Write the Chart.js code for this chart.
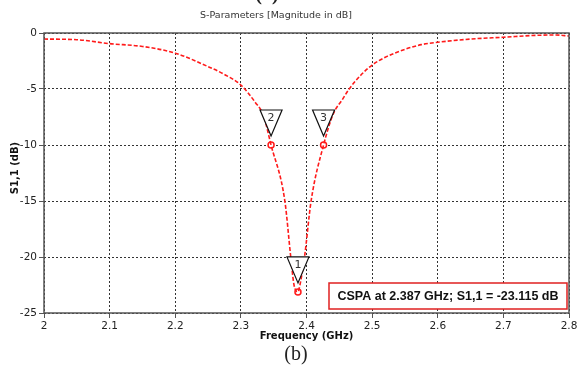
<!DOCTYPE html>
<html>
<head>
<meta charset="utf-8">
<script src="https://cdn.jsdelivr.net/npm/chart.js@4"></script>
<style>
  body { margin: 0; background: #fff; }
  canvas { display: block; }
</style>
</head>
<body>
<canvas id="chart" width="580" height="368"></canvas>
<script>
// S11 curve
var freq = [2.00, 2.05, 2.10, 2.15, 2.20, 2.25, 2.275, 2.30, 2.322, 2.334, 2.346, 2.367, 2.376, 2.381, 2.387,
            2.390, 2.397, 2.407, 2.426, 2.441, 2.454, 2.465, 2.483, 2.50, 2.52, 2.55, 2.575, 2.60, 2.65, 2.70, 2.75, 2.78, 2.80];
var s11 = [-0.54, -0.6, -0.95, -1.2, -1.8, -3.0, -3.7, -4.65, -6.2, -7.3, -10.0, -15.0, -20.0, -22.5, -23.115,
           -22.5, -20.0, -15.0, -10.0, -7.2, -6.0, -5.0, -3.75, -2.86, -2.17, -1.46, -1.04, -0.83, -0.54, -0.38, -0.21, -0.18, -0.27];

// markers
var markNames = ['1', '2', '3'];
var markFreq = [2.387, 2.346, 2.426];
var markVal = [-23.115, -10.0, -10.0];

var xTicks = ['2', '2.1', '2.2', '2.3', '2.4', '2.5', '2.6', '2.7', '2.8'];
var yTicks = ['-25', '-20', '-15', '-10', '-5', '0'];

var tickFont = { family: 'DejaVu Sans', size: 10.5 };

var decorPlugin = {
    id: 'decor',
    afterDatasetsDraw: function(chart) {
        var ctx = chart.ctx;
        var xs = chart.scales.x, ys = chart.scales.y;
        var a = chart.chartArea;
        ctx.save();
        // frame
        ctx.strokeStyle = '#555';
        ctx.lineWidth = 1.5;
        ctx.strokeRect(a.left, a.top, a.right - a.left, a.bottom - a.top);
        // marker triangles
        ctx.lineWidth = 1.2;
        ctx.font = '11px DejaVu Sans';
        ctx.textAlign = 'center';
        ctx.textBaseline = 'middle';
        for (var i = 0; i < markNames.length; i++) {
            var px = xs.getPixelForValue(markFreq[i]);
            var py = ys.getPixelForValue(markVal[i]);
            var tip = py - 9;
            ctx.beginPath();
            ctx.moveTo(px, tip);
            ctx.lineTo(px - 11, tip - 26);
            ctx.lineTo(px + 11, tip - 26);
            ctx.closePath();
            ctx.fillStyle = '#fff';
            ctx.fill();
            ctx.strokeStyle = '#111';
            ctx.stroke();
            ctx.fillStyle = '#333';
            ctx.fillText(markNames[i], px, tip - 18);
        }
        ctx.restore();
    },
    afterDraw: function(chart) {
        var ctx = chart.ctx;
        var a = chart.chartArea;
        var cx = (a.left + a.right) / 2;
        ctx.save();
        ctx.textAlign = 'center';
        ctx.fillStyle = '#222';
        ctx.font = 'bold 20px Liberation Serif';
        ctx.textBaseline = 'alphabetic';
        ctx.fillText('(a)', 267, 0);
        ctx.font = '9.5px DejaVu Sans';
        ctx.fillStyle = '#333';
        ctx.textBaseline = 'middle';
        ctx.fillText('S-Parameters [Magnitude in dB]', 276, 16);
        ctx.fillStyle = '#111';
        ctx.font = 'bold 10px DejaVu Sans';
        ctx.fillText('Frequency (GHz)', cx, 336);
        ctx.save();
        ctx.translate(15, 168);
        ctx.rotate(-Math.PI / 2);
        ctx.fillText('S1,1 (dB)', 0, 0);
        ctx.restore();
        ctx.font = '20px Liberation Serif';
        ctx.fillStyle = '#222';
        ctx.fillText('(b)', 296, 355);
        // marker readout box
        ctx.fillStyle = '#fff';
        ctx.fillRect(329, 283, 238, 26);
        ctx.strokeStyle = '#e02020';
        ctx.lineWidth = 1.5;
        ctx.strokeRect(329, 283, 238, 26);
        ctx.fillStyle = '#111';
        ctx.font = 'bold 12.5px Liberation Sans';
        ctx.fillText('CSPA at ' + markFreq[0] + ' GHz; S1,1 = ' + markVal[0].toFixed(3) + ' dB', 448, 296.5);
        ctx.restore();
    }
};

var points = freq.map(function(f, i) { return { x: f, y: s11[i] }; });
var markPts = markFreq.map(function(f, i) { return { x: f, y: markVal[i] }; });

new Chart(document.getElementById('chart'), {
    type: 'line',
    data: {
        datasets: [{
            data: points,
            borderColor: '#ff1a1a',
            borderWidth: 1.6,
            borderDash: [4, 2],
            pointRadius: 0,
            cubicInterpolationMode: 'monotone',
            fill: false
        }, {
            data: markPts,
            showLine: false,
            pointRadius: 3,
            pointBorderWidth: 1.5,
            pointBorderColor: '#ff1a1a',
            pointBackgroundColor: '#fff'
        }]
    },
    options: {
        responsive: false,
        animation: false,
        layout: { padding: { top: 33, right: 11, left: 0, bottom: 0 } },
        plugins: { legend: { display: false }, tooltip: { enabled: false } },
        scales: {
            x: {
                type: 'linear',
                min: 2, max: 2.8,
                afterFit: function(s) { s.height = 55; },
                afterBuildTicks: function(s) {
                    s.ticks = xTicks.map(function(t) { return { value: parseFloat(t) }; });
                },
                ticks: {
                    font: tickFont, color: '#222', padding: 2, maxRotation: 0,
                    callback: function(v, i) { return xTicks[i]; }
                },
                grid: { color: '#333', tickColor: '#555', tickLength: 5, lineWidth: 1 },
                border: { display: false, dash: [2, 2] }
            },
            y: {
                type: 'linear',
                min: -25, max: 0,
                afterFit: function(s) { s.width = 44; },
                afterBuildTicks: function(s) {
                    s.ticks = yTicks.map(function(t) { return { value: parseFloat(t) }; });
                },
                ticks: {
                    font: tickFont, color: '#222', padding: 2,
                    callback: function(v, i) { return yTicks[i]; }
                },
                grid: { color: '#333', tickColor: '#555', tickLength: 5, lineWidth: 1 },
                border: { display: false, dash: [2, 2] }
            }
        }
    },
    plugins: [decorPlugin]
});
</script>
</body>
</html>
